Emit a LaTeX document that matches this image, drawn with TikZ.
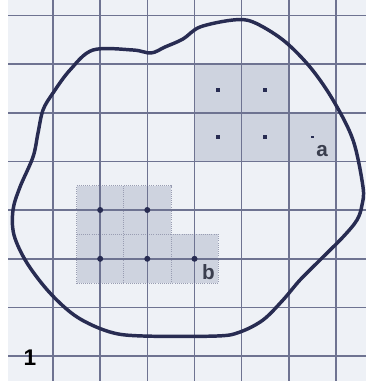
\documentclass[tikz,border=0pt]{standalone}
\usepackage{fontspec}
\setmainfont{Liberation Sans}
\usetikzlibrary{positioning}
\definecolor{paperbg}{RGB}{238,241,246}
\definecolor{gridblue}{RGB}{110,115,145}
\definecolor{outlineblue}{RGB}{40,44,82}
\definecolor{cellshade}{RGB}{206,211,223}
\definecolor{labelgray}{RGB}{58,62,78}
\tikzset{
      gridline/.style={
        draw=gridblue,
        line width=1.1pt
      },
      shadecell/.style={
        fill=cellshade,
        draw=none
      },
      dottedcell/.style={
        draw=gridblue!70,
        densely dotted,
        line width=0.6pt
      },
      squaredot/.style={
        rectangle,
        fill=outlineblue,
        minimum size=2.8pt,
        inner sep=0pt
      },
      rounddot/.style={
        circle,
        fill=outlineblue,
        minimum size=4.5pt,
        inner sep=0pt
      },
      celllabel/.style={
        text=labelgray,
        font=\bfseries\fontsize{15.5pt}{16pt}\selectfont,
        inner sep=0pt
      }
    }
\begin{document}
\begin{tikzpicture}[x=0.75pt,y=-0.75pt]
    \useasboundingbox (0,0) rectangle (366,381);
    \fill[white] (0,0) rectangle (366,381);
    \fill[paperbg] (8,0) rectangle (366,381);
    % shaded cells
    \fill[shadecell] (194.5,64) rectangle (288.8,161.4);
    \fill[shadecell] (288.8,112.7) rectangle (336,161.4);
    \fill[shadecell] (76.6,185.7) rectangle (170.9,234.4);
    \fill[shadecell] (76.6,234.4) rectangle (218.1,283.1);
    \draw[dottedcell] (76.6,185.7) -- (170.9,185.7) -- (170.9,234.4) -- (218.1,234.4)
      -- (218.1,283.1) -- (76.6,283.1) -- cycle;
    \draw[dottedcell] (123.8,185.7) -- (123.8,283.1);
    \draw[dottedcell] (170.9,234.4) -- (170.9,283.1);
    \draw[dottedcell] (76.6,234.4) -- (170.9,234.4);
    % grid
    \foreach \k in {0,...,6}
      \draw[gridline] ({53+47.17*\k},0) -- ({53+47.17*\k},381);
    \foreach \k in {0,...,7}
      \draw[gridline] (8,{15.5+48.67*\k}) -- (366,{15.5+48.67*\k});
    % outline
    \draw[outlineblue, line width=2.6pt, line join=round]
      plot[smooth cycle, tension=0.55] coordinates {
        (13,210) (20,187) (33,157) (38,133) (43,110) (53,93) (70,70) (93,50)
        (133,50) (151,53) (165,47) (183,39) (200,27) (233,20) (253,22)
        (283,40) (310,67) (333,100) (353,140) (363,187) (362,205) (357,220)
        (343,237) (320,260) (300,280) (283,300) (263,320) (240,332) (217,336)
        (143,336) (110,332) (77,317) (50,293) (27,263) (14,235)};
    % dots
    \node[squaredot] (a1) at (218.1,90) {};
    \node[squaredot] (a2) at (265.2,90) {};
    \node[squaredot] (a3) at (218.1,137) {};
    \node[squaredot] (a4) at (265.2,137) {};
    \node[squaredot, minimum size=2pt] (a5) at (312.4,137) {};
    \node[rounddot] (b1) at (100.2,210) {};
    \node[rounddot] (b2) at (147.3,210) {};
    \node[rounddot] (b3) at (100.2,258.8) {};
    \node[rounddot] (b4) at (147.3,258.8) {};
    \node[rounddot] (b5) at (194.5,258.8) {};
    % labels
    \node[celllabel] (la) at (322,151) {a};
    \node[celllabel] (lb) at (208.5,272) {b};
    \node[celllabel, text=black, font=\bfseries\fontsize{17pt}{18pt}\selectfont] (fig) at (30,358) {1};
\end{tikzpicture}
\end{document}
